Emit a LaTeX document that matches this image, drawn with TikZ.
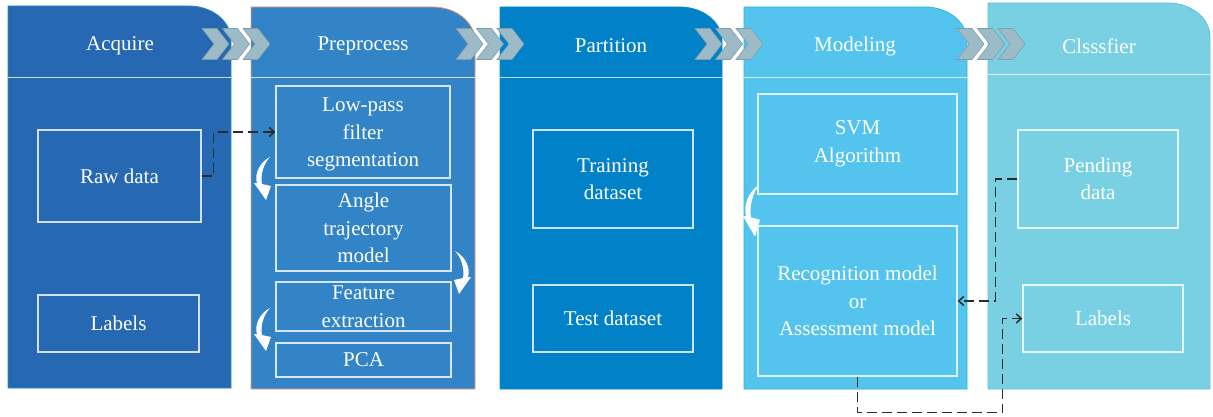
\documentclass[tikz,border=0pt]{standalone}
\usepackage{fontspec}
\setmainfont{Liberation Serif}
\usetikzlibrary{arrows.meta,calc}
\definecolor{cA}{HTML}{2668B1}
\definecolor{cB}{HTML}{3284C6}
\definecolor{cC}{HTML}{0081C8}
\definecolor{cD}{HTML}{54C4EE}
\definecolor{cE}{HTML}{7AD0E3}
\definecolor{bA}{HTML}{2A8FB8}
\definecolor{bB}{HTML}{EE9E72}
\definecolor{bC}{HTML}{0A8CC8}
\definecolor{bD}{HTML}{2DB5D6}
\definecolor{bE}{HTML}{5CC4DA}
\definecolor{chevF}{HTML}{9DBBC7}
\definecolor{chevD}{HTML}{7E9EAD}
\definecolor{dashc}{HTML}{2B2B2B}
\newcommand\colpanel[7]{%
  \filldraw[fill=#5, draw=#6, line width=0.8] (#1,#4) -- (#1,#3) -- ({#2-42},#3)
    .. controls ({#2-19},#3) and (#2,{#3+15}) .. (#2,{#3+34}) -- (#2,#4) -- cycle;
  \draw[white, opacity=.75, line width=1.6] (#1,#7) -- (#2,#7);}
\newcommand\chevrons[1]{%
  \foreach \dx in {0,20.5,41}{
    \filldraw[fill=chevF, draw=chevD, line width=0.6]
      ($(#1,44)+(\dx,0)$) ++(0,-15.5) -- ++(15,0) -- ++(12,15.5) -- ++(-12,15.5)
      -- ++(-15,0) -- ++(12,-15.5) -- cycle;}}
\tikzset{
  txt/.style={font=\rmfamily\fontsize{21}{27.5}\selectfont, text=white},
  hdr/.style={txt},
  ibox/.style={txt, draw=white, draw opacity=.8, line width=1.3, align=center, inner sep=0pt},
  dashconn/.style={draw=dashc, line width=1.5, dash pattern=on 10pt off 5pt,
    -{Straight Barb[length=5pt,width=9pt]}},
  crescent/.pic={\fill[white] (0,0) .. controls (-10,5) and (-16,17) .. (-13,26)
     -- (-16,26) -- (-4,43) -- (1,29) -- (-8,27) .. controls (-10,18) and (-6,6) .. (0,0) -- cycle;}
}
\begin{document}
\begin{tikzpicture}[x=1pt,y=-1pt]
\fill[white] (0,0) rectangle (1213,417);
\useasboundingbox (0,0) rectangle (1213,417);
% panels
\colpanel{8}{231}{6}{388}{cA}{bA}{77.5}
\colpanel{251}{475}{7}{389}{cB}{bB}{77.5}
\colpanel{500}{722}{7}{389}{cC}{bC}{77.5}
\colpanel{744}{967}{7}{389}{cD}{bD}{77.5}
\colpanel{988}{1210}{3}{389}{cE}{bE}{74.5}
% chevrons
\chevrons{202}
\chevrons{456}
\chevrons{695}
\chevrons{957}
% headers
\node[hdr] (h1) at (120,46) {Acquire};
\node[hdr] (h2) at (363,46) {Preprocess};
\node[hdr] (h3) at (611,46) {Partition};
\node[hdr] (h4) at (855,46) {Modeling};
\node[hdr] (h5) at (1099,46) {Clsssfier};
% boxes
\node[ibox, minimum width=163, minimum height=92] (raw) at (119.5,176) {Raw data};
\node[ibox, minimum width=161, minimum height=57] (lab1) at (118.5,323.5) {Labels};
\node[ibox, minimum width=174, minimum height=92] (lp) at (363,132) {\strut Low-pass\\filter\\segmentation};
\node[ibox, minimum width=175, minimum height=86] (ang) at (363.5,228) {Angle\\trajectory\\model};
\node[ibox, minimum width=175, minimum height=49] (feat) at (363.5,306.5) {Feature\\extraction};
\node[ibox, minimum width=175, minimum height=34] (pca) at (363.5,360) {PCA};
\node[ibox, minimum width=160, minimum height=98] (train) at (613,179) {Training\\dataset};
\node[ibox, minimum width=160, minimum height=67] (test) at (613,318.5) {Test dataset};
\node[ibox, minimum width=199, minimum height=100] (svm) at (857.5,144) {SVM\\Algorithm};
\node[ibox, minimum width=199, minimum height=150] (rec) at (857.5,301) {Recognition model\\or\\Assessment model};
\node[ibox, minimum width=160, minimum height=98] (pend) at (1098,179) {Pending\\data};
\node[ibox, minimum width=160, minimum height=67] (lab2) at (1103,318.5) {Labels};
% curved arrows
\pic at (270,157) {crescent};
\pic[xscale=-1] at (455,251) {crescent};
\pic at (270,308) {crescent};
\pic[yscale=1.2] at (759,185) {crescent};
% dashed connectors
\draw[dashconn] (raw.east) -- ++(12,0) |- (lp.west);
\draw[dashconn] (pend.west) -- ++(-22,0) |- (rec.east);
\coordinate (lbend) at ($(lab2.west)+(-20,0)$);
\draw[dashconn] (rec.south) -- ++(0,36) -| (lbend) -- (lab2.west);
\end{tikzpicture}
\end{document}
